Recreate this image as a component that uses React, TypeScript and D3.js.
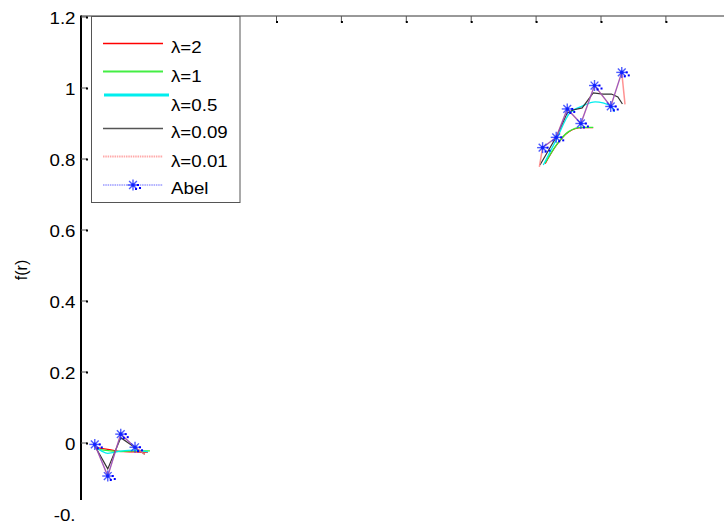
import React from "react";
import * as d3 from "d3";

// ---- data ----
const yTicks = [0, 0.2, 0.4, 0.6, 0.8, 1, 1.2];
const yTickLabels = ["0", "0.2", "0.4", "0.6", "0.8", "1", "1.2"];
const clippedLabel = "-0.";
const xTicks = [1, 2, 3, 4, 5, 6, 7, 8, 9];
const legendLabels = ["λ=2", "λ=1", "λ=0.5", "λ=0.09", "λ=0.01", "Abel"];
const yLabel = "f(r)";

const abelXL = [0.2, 0.4, 0.6, 0.82];
const abelYL = [-0.004, -0.093, 0.025, -0.012];
const abelXR = [7.1, 7.31, 7.48, 7.69, 7.9, 8.15, 8.32];
const abelYR = [0.832, 0.861, 0.941, 0.9, 1.007, 0.948, 1.044];

const l001XL = [0.2, 0.4, 0.6, 0.82, 0.97];
const l001YL = [-0.004, -0.093, 0.025, -0.012, -0.032];
const l001XR = [7.05, 7.1, 7.31, 7.48, 7.69, 7.9, 8.15, 8.32, 8.37];
const l001YR = [0.778, 0.832, 0.861, 0.941, 0.9, 1.007, 0.948, 1.044, 0.954];

const l009XL = [0.2, 0.4, 0.6, 0.97];
const l009YL = [-0.008, -0.073, 0.015, -0.032];
const l009XR = [7.06, 7.31, 7.48, 7.57, 7.71, 7.88, 8.03, 8.16, 8.26, 8.33];
const l009YR = [0.783, 0.862, 0.93, 0.938, 0.944, 0.986, 0.983, 0.983, 0.975, 0.955];

const l05XL = [0.2, 0.3, 0.4, 0.6, 0.82, 1.02];
const l05YL = [-0.01, -0.022, -0.029, -0.023, -0.02, -0.025];
const l05XR = [7.11, 7.31, 7.52, 7.71, 7.91, 8.03, 8.16, 8.21];
const l05YR = [0.783, 0.854, 0.93, 0.949, 0.961, 0.958, 0.947, 0.933];

const l1XL = [0.22, 0.6, 0.82, 1.05];
const l1YL = [-0.017, -0.024, -0.022, -0.022];
const l1XR = [7.14, 7.31, 7.5, 7.7, 7.88];
const l1YR = [0.789, 0.839, 0.877, 0.889, 0.889];

const l2XL = [0.2, 0.4, 0.6, 0.82, 1.02];
const l2YL = [-0.012, -0.018, -0.024, -0.025, -0.026];
const l2XR = [7.14, 7.31, 7.5, 7.7, 7.88];
const l2YR = [0.787, 0.838, 0.876, 0.888, 0.888];

const zip = (xs: number[], ys: number[]) => xs.map((x, i) => [x, ys[i]] as [number, number]);

export default function App() {
  const x = d3.scaleLinear().domain([0, 10]).range([81.8, 730.8]);
  const y = d3.scaleLinear().domain([-0.2, 1.2]).range([514, 17]);
  const lineLin = d3.line<[number, number]>().x((d) => x(d[0])).y((d) => y(d[1]));
  const lineSmooth = d3
    .line<[number, number]>()
    .x((d) => x(d[0]))
    .y((d) => y(d[1]))
    .curve(d3.curveMonotoneX);

  const axisLeft = 81;
  const axisTop = 16;
  const axisBottom = 500;
  const font = "Liberation Sans, Arial, sans-serif";

  const series = [
    { segs: [zip(l2XL, l2YL), zip(l2XR, l2YR)], color: "#ff0000", w: 1.2, smooth: true },
    { segs: [zip(l1XL, l1YL), zip(l1XR, l1YR)], color: "#33ee33", w: 1.3, smooth: true },
    { segs: [zip(l05XL, l05YL), zip(l05XR, l05YR)], color: "#00eeee", w: 1.3, smooth: true },
    { segs: [zip(l009XL, l009YL), zip(l009XR, l009YR)], color: "#333333", w: 1.2, smooth: false },
  ];

  const star = (cx: number, cy: number, key: string) => {
    const r = 5.5;
    const angles = [0, 45, 90, 135];
    return (
      <g key={key}>
        {angles.map((a) => {
          const dx = r * Math.cos((a * Math.PI) / 180);
          const dy = r * Math.sin((a * Math.PI) / 180);
          return (
            <line
              key={a}
              x1={cx - dx}
              y1={cy - dy}
              x2={cx + dx}
              y2={cy + dy}
              stroke="#2233ff"
              strokeWidth={1.4}
              strokeOpacity={0.8}
            />
          );
        })}
        <circle cx={cx} cy={cy} r={1.8} fill="#1122ff" />
        <rect x={cx + 4} y={cy - 1} width={2} height={2} fill="#0000ff" />
        <rect x={cx + 2} y={cy + 3} width={2} height={2} fill="#0000ff" />
        <rect x={cx + 6} y={cy + 2} width={2} height={2} fill="#0000ff" />
      </g>
    );
  };

  const legendX = 91.5;
  const legendRows = [43.5, 71.5, 95, 128.5, 156.5, 185];
  const legendTextY = [47.5, 76.5, 105, 132.5, 161.5, 188.5];

  const stretchedText = (tx: number, ty: number, txt: string, anchor: string, key: string) => (
    <g key={key} transform={`translate(${tx},${ty}) scale(1.17,1)`}>
      <text x={0} y={0} textAnchor={anchor} dominantBaseline="central" fontFamily={font} fontSize={16} fill="#000">
        {txt}
      </text>
    </g>
  );

  return (
    <svg
      width={724}
      height={525}
      style={{ position: "absolute", left: 0, top: 0, background: "#fff" }}
    >
      <rect x={0} y={0} width={724} height={525} fill="#fff" />

      {/* data lines */}
      {series.map((s, i) =>
        s.segs.map((seg, j) => (
          <path
            key={`s${i}-${j}`}
            d={(s.smooth ? lineSmooth : lineLin)(seg) || ""}
            fill="none"
            stroke={s.color}
            strokeWidth={s.w}
          />
        ))
      )}
      {[zip(l001XL, l001YL), zip(l001XR, l001YR)].map((seg, j) => (
        <path key={`p${j}`} d={lineLin(seg) || ""} fill="none" stroke="#ff8080" strokeWidth={1.5} strokeOpacity={0.85} />
      ))}
      {[zip(abelXL, abelYL), zip(abelXR, abelYR)].map((seg, j) => (
        <path key={`a${j}`} d={lineLin(seg) || ""} fill="none" stroke="#2222ff" strokeWidth={1.1} strokeOpacity={0.5} />
      ))}
      {[...zip(abelXL, abelYL), ...zip(abelXR, abelYR)].map((d, i) => star(x(d[0]), y(d[1]), `st${i}`))}

      {/* axes */}
      <line x1={axisLeft} y1={axisTop} x2={724} y2={axisTop} stroke="#333" strokeWidth={1} />
      <line x1={axisLeft} y1={axisTop - 0.5} x2={axisLeft} y2={axisBottom} stroke="#000" strokeWidth={2} />
      {xTicks.map((t) => (
        <g key={`xt${t}`}>
          <line x1={x(t)} y1={axisTop} x2={x(t)} y2={axisTop + 6} stroke="#555" strokeWidth={1} />
          <rect x={x(t) - 0.5} y={axisTop + 5} width={2} height={2} fill="#000" />
        </g>
      ))}
      {yTicks.map((t) => (
        <g key={`yt${t}`}>
          <line x1={axisLeft} y1={y(t)} x2={axisLeft + 6} y2={y(t)} stroke="#555" strokeWidth={1} />
          <rect x={axisLeft + 5} y={y(t) - 0.5} width={2} height={2} fill="#000" />
        </g>
      ))}
      {yTicks.map((t, i) => stretchedText(75.5, y(t) + 1, yTickLabels[i], "end", `yl${i}`))}
      {stretchedText(75.5, y(-0.2) + 1, clippedLabel, "end", "ylc")}

      <text
        transform={`translate(21,270) rotate(-90)`}
        textAnchor="middle"
        dominantBaseline="central"
        fontFamily={font}
        fontSize={16}
        fill="#000"
      >
        {yLabel}
      </text>

      {/* legend */}
      <rect x={legendX} y={16.5} width={148.5} height={186} fill="#fff" stroke="#555" strokeWidth={1} />
      <line x1={103} y1={legendRows[0]} x2={163} y2={legendRows[0]} stroke="#ff0000" strokeWidth={1.4} />
      <line x1={103} y1={legendRows[1]} x2={163} y2={legendRows[1]} stroke="#44ee44" strokeWidth={2} />
      <line x1={104} y1={legendRows[2]} x2={169} y2={legendRows[2]} stroke="#00eeee" strokeWidth={3} />
      <line x1={103} y1={legendRows[3]} x2={163} y2={legendRows[3]} stroke="#555" strokeWidth={1.5} />
      <line x1={103} y1={legendRows[4]} x2={163} y2={legendRows[4]} stroke="#ffaaaa" strokeWidth={2} strokeDasharray="1.5,0.8" />
      <line x1={103} y1={legendRows[5]} x2={163} y2={legendRows[5]} stroke="#6666ff" strokeWidth={1} strokeDasharray="1.5,0.8" />
      {star(133, legendRows[5], "legstar")}
      {legendLabels.map((l, i) => stretchedText(171, legendTextY[i], l, "start", `lg${i}`))}
    </svg>
  );
}
